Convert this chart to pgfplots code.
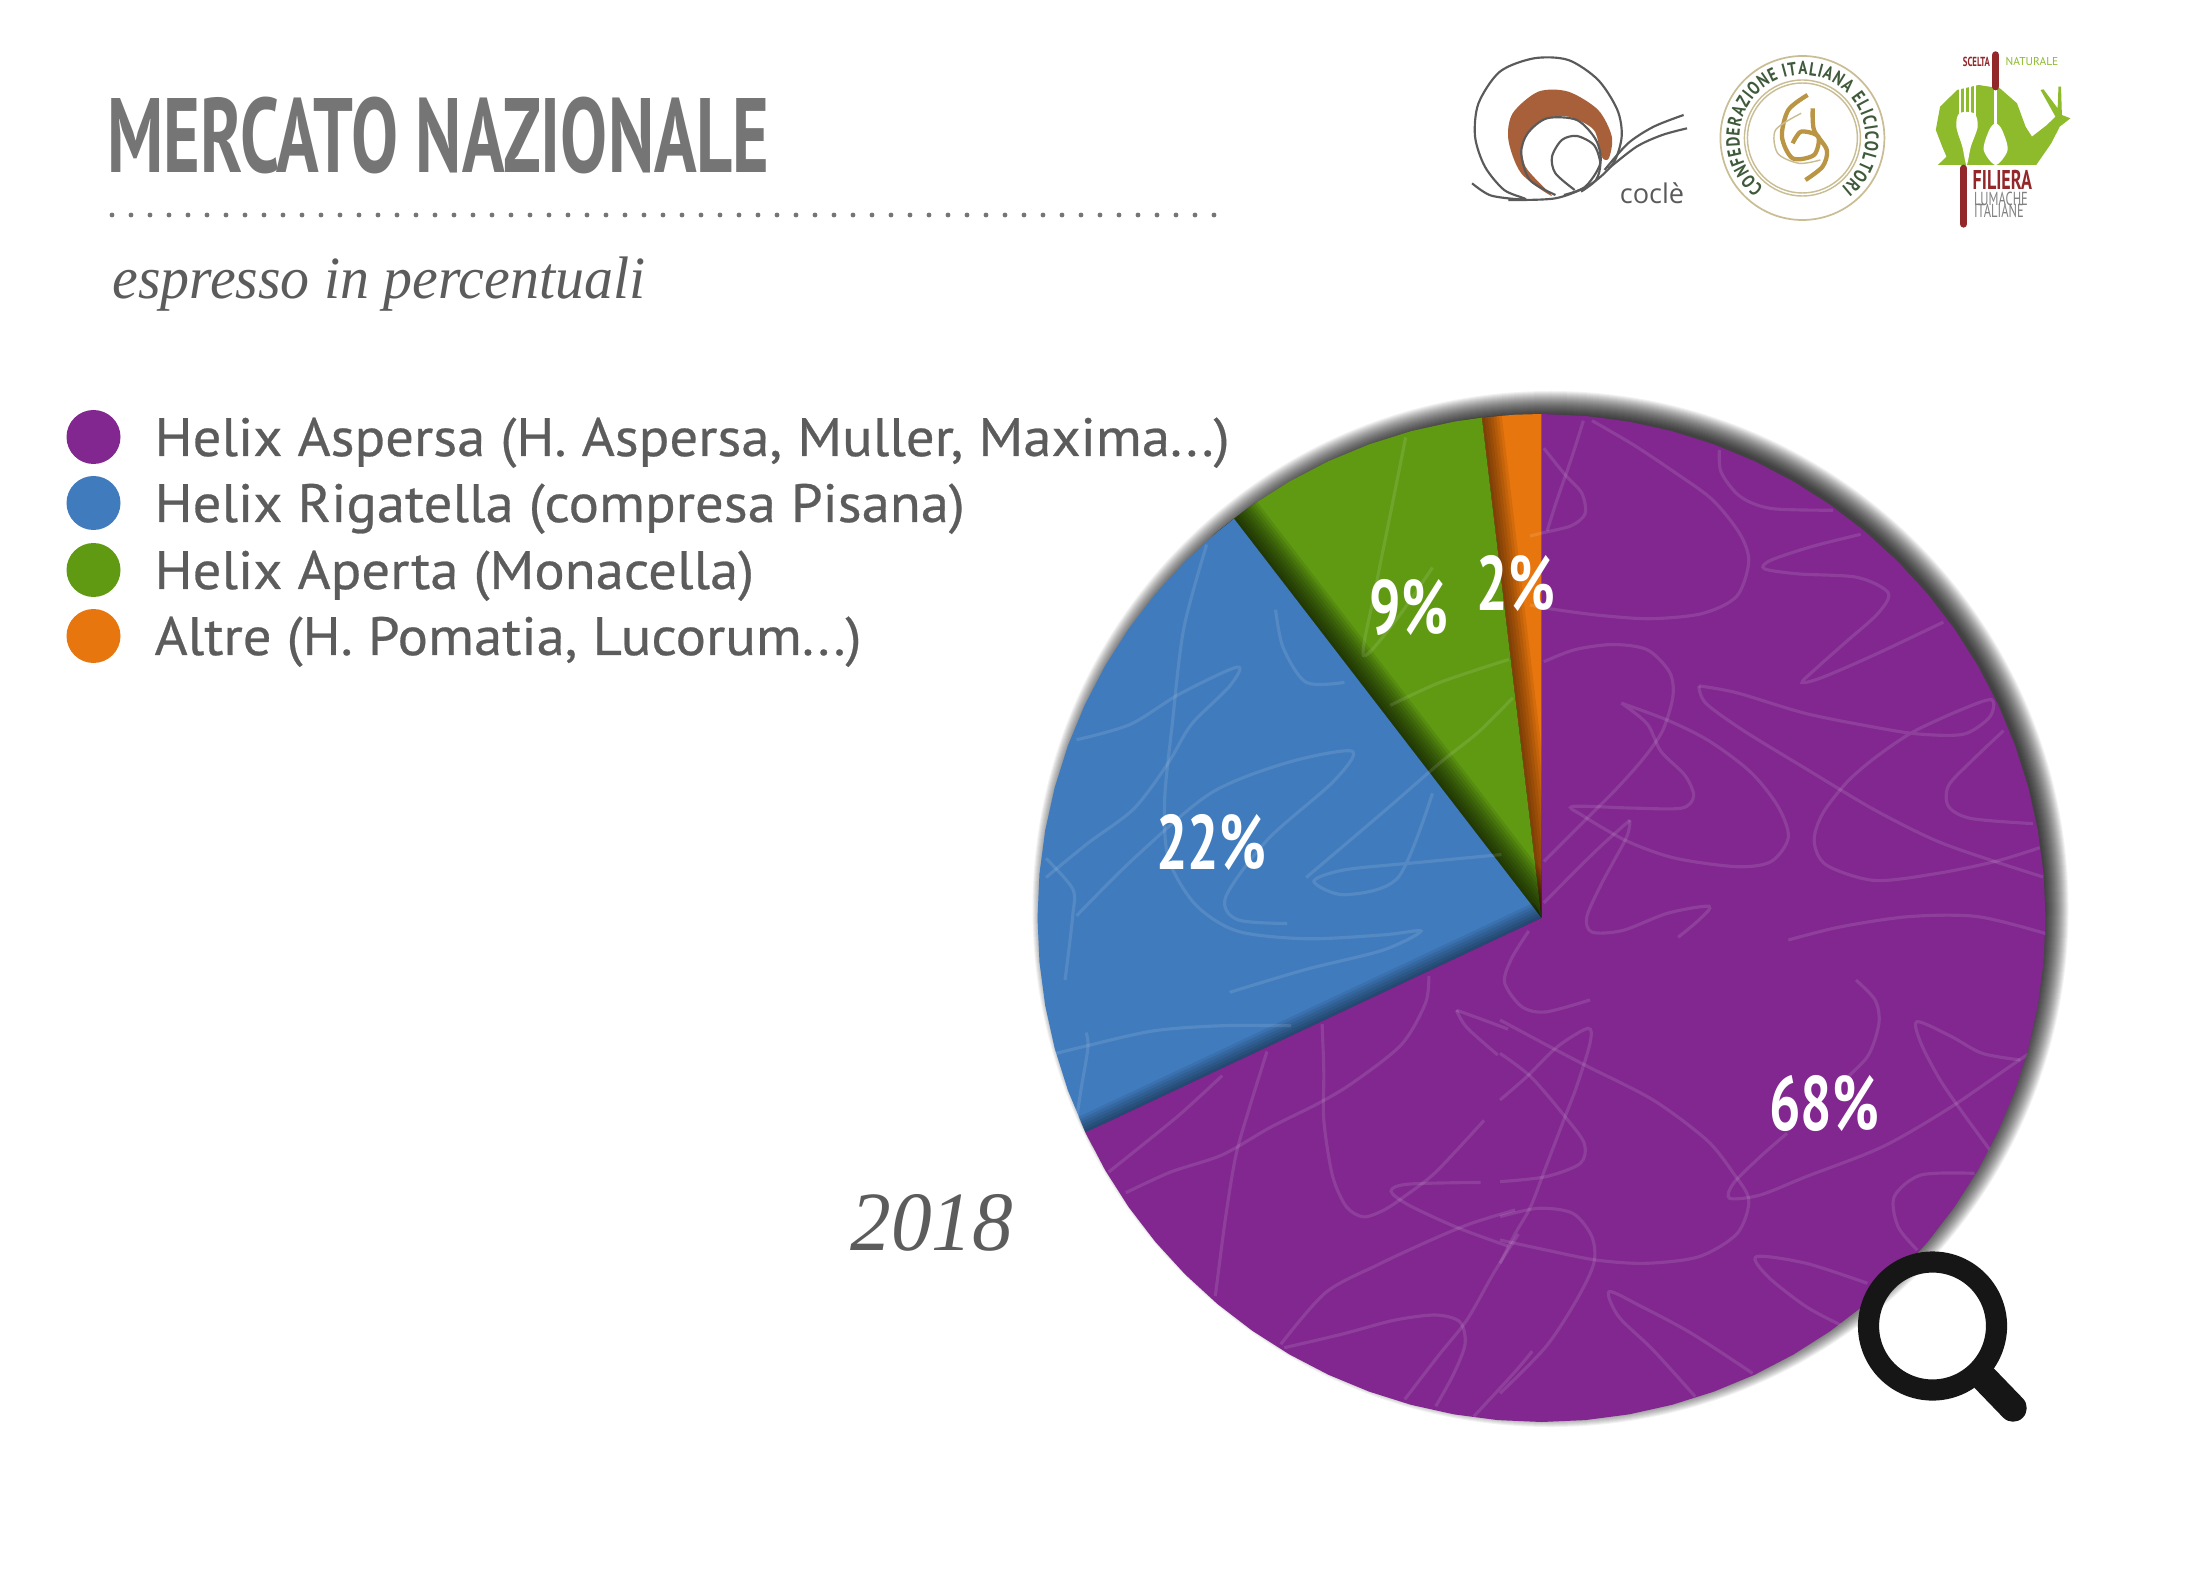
\documentclass[border=0pt]{standalone}
\usepackage{pgfplots}
\pgfplotsset{compat=1.18}
\usepgfplotslibrary{polar}
\usetikzlibrary{decorations.text}
\usepackage{fontspec}
\setmainfont{PT Sans}
\newfontfamily\titlef{PT Sans}[FakeStretch=.665]
\newfontfamily\ringf{PT Sans}[FakeStretch=.8]
\newfontfamily\legf{PT Sans}[FakeStretch=1.05,FakeBold=.5]
\newfontfamily\pctf{PT Sans}[FakeStretch=.72]
\newfontfamily\seriff{Liberation Serif}[FakeStretch=.965]
\newfontfamily\thinf{Open Sans}
\definecolor{cpurple}{HTML}{81278F}
\definecolor{cblue}{HTML}{3F7BBD}
\definecolor{cgreen}{HTML}{5F9A12}
\definecolor{corange}{HTML}{E8760E}
\definecolor{tgray}{HTML}{5C5C5C}
\definecolor{ttitle}{HTML}{757575}
\definecolor{lgray}{HTML}{5A5A5A}
\definecolor{lbrown}{HTML}{A8603A}
\definecolor{ltan}{HTML}{C9BD93}
\definecolor{lgold}{HTML}{B99544}
\definecolor{ldgreen}{HTML}{3F5A3A}
\definecolor{lgreen}{HTML}{8DBB2C}
\definecolor{lred}{HTML}{92282A}
\begin{document}
\begin{tikzpicture}[x=.35pt,y=-.35pt]
\path[use as bounding box] (0,0) rectangle (2186,1580);
\fill[white] (0,0) rectangle (2186,1580);
\coordinate (C) at (1541.5,918);
% soft drop shadow
\foreach \r in {495,496,...,518}{\fill[black,opacity=.05] (1550.5,909) circle (\r);}
\begin{polaraxis}[
  at={(C)},anchor=center,scale only axis,width=352.8pt,height=352.8pt,
  xmin=0,xmax=360,ymin=0,ymax=1,hide axis,clip=false]
\addplot[fill=corange,draw=none,forget plot] coordinates {(90,0)(90,1)(93,1)(96.8,1)} -- cycle;
\pgfplotsinvokeforeach{2,4,6,8,10,12,14}{\addplot[black,opacity=.08,line width=#1pt,forget plot] coordinates {(96.8,0)(96.8,1)};}
\addplot[fill=cgreen,draw=none,forget plot] coordinates {(96.8,0)(96.8,1)(100,1)(105,1)(110,1)(115,1)(120,1)(125,1)(127.6,1)} -- cycle;
\pgfplotsinvokeforeach{2,4,6,8,10,12,14,16,18,20}{\addplot[black,opacity=.09,line width=#1pt,forget plot] coordinates {(127.6,0)(127.6,1)};}
\addplot[fill=cblue,draw=none,forget plot] coordinates {(127.6,0)(127.6,1)(130,1)(135,1)(140,1)(145,1)(150,1)(155,1)(160,1)(165,1)(170,1)(175,1)(180,1)(185,1)(190,1)(195,1)(200,1)(205.2,1)} -- cycle;
\pgfplotsinvokeforeach{2,4,6,8,10,12}{\addplot[black,opacity=.08,line width=#1pt,forget plot] coordinates {(205.2,0)(205.2,1)};}
\addplot[fill=cpurple,draw=none,forget plot] coordinates {(205.2,0)(205.2,1)(210,1)(215,1)(220,1)(225,1)(230,1)(235,1)(240,1)(245,1)(250,1)(255,1)(260,1)(265,1)(270,1)(275,1)(280,1)(285,1)(290,1)(295,1)(300,1)(305,1)(310,1)(315,1)(320,1)(325,1)(330,1)(335,1)(340,1)(345,1)(350,1)(355,1)(360,1)(365,1)(370,1)(375,1)(380,1)(385,1)(390,1)(395,1)(400,1)(405,1)(410,1)(415,1)(420,1)(425,1)(430,1)(435,1)(440,1)(445,1)(450,1)} -- cycle;
\end{polaraxis}
% faint scribbles
\begin{scope}
\clip (C) circle (504);
\tikzset{sq/.style={white,opacity=.11,line width=1.1pt}}
\begin{scope}[shift={(1500,1000)},xscale=.3827,yscale=.3333]
\draw[sq] plot[smooth] coordinates {(0,60)(130,140)(230,200)(400,300)(540,420)(610,520)(650,600)(620,700)(520,770)(380,790)(250,780)(120,750)(0,720)};
\draw[sq] plot[smooth] coordinates {(0,300)(70,230)(150,140)(230,85)(235,130)(200,260)(170,350)(120,500)(80,620)(40,700)(0,790)};
\draw[sq] plot[smooth] coordinates {(0,160)(80,230)(170,350)(220,430)(210,490)(120,530)(0,545)};
\draw[sq] plot[smooth] coordinates {(0,650)(100,625)(190,640)(240,710)(245,790)(200,900)(120,1040)(0,1180)};
\draw[sq] plot[smooth] coordinates {(750,400)(680,470)(610,550)(600,595)(680,585)(800,530)(1000,440)(1180,320)(1370,170)(1500,80)};
\draw[sq] plot[smooth] coordinates {(1360,180)(1260,160)(1180,110)(1090,65)(1100,130)(1150,240)(1210,340)(1280,450)};
\draw[sq] plot[smooth] coordinates {(1240,520)(1100,525)(1030,590)(1040,680)(1090,750)};
\draw[sq] plot[smooth] coordinates {(960,850)(800,790)(670,770)(700,830)(800,920)(890,975)};
\draw[sq] plot[smooth] coordinates {(660,1120)(500,1000)(370,920)(285,875)(310,950)(400,1050)(510,1190)};
\draw[sq] plot[smooth] coordinates {(880,260)(960,170)(990,70)(980,0)(930,-60)};
\end{scope}
\begin{scope}[shift={(1000,380)},scale=.3827]
\draw[sq] plot[smooth] coordinates {(540,430)(480,650)(450,900)(430,1100)(440,1250)(510,1370)(620,1440)(800,1460)(1000,1450)(1100,1440)(1000,1490)(800,1540)(600,1600)};
\draw[sq] plot[smooth] coordinates {(200,940)(340,900)(470,820)(620,750)(600,800)(500,900)(440,1000)(350,1120)(230,1210)(120,1300)};
\draw[sq] plot[smooth] coordinates {(120,1250)(190,1330)(190,1400)(170,1568)};
\draw[sq] plot[smooth] coordinates {(200,1400)(350,1250)(550,1080)(750,1000)(920,970)(870,1050)(700,1200)(590,1350)(620,1410)(750,1420)};
\draw[sq] plot[smooth] coordinates {(1310,1240)(1100,1260)(900,1280)(820,1310)(900,1345)(1040,1300)(1130,1080)};
\draw[sq] plot[smooth] coordinates {(1060,150)(1020,350)(980,550)(950,720)(1040,620)(1130,490)};
\draw[sq] plot[smooth] coordinates {(1330,730)(1150,790)(1020,850)};
\draw[sq] plot[smooth] coordinates {(1340,830)(1250,920)(1150,1000)(1000,1130)(800,1300)};
\draw[sq] plot[smooth] coordinates {(720,600)(740,700)(800,790)(900,790)};
\end{scope}
\begin{scope}[shift={(1530,400)},scale=.3444]
\draw[sq] plot[smooth] coordinates {(40,140)(100,215)(150,270)(160,330)(120,365)(40,385)(0,395)};
\draw[sq] plot[smooth] coordinates {(155,60)(120,170)(75,300)(50,380)};
\draw[sq] plot[smooth] coordinates {(180,60)(300,130)(420,210)(530,290)(610,390)(635,470)(600,570)(500,620)(350,635)(200,625)(50,605)(0,595)};
\draw[sq] plot[smooth] coordinates {(550,145)(555,210)(610,280)(700,315)(880,320)};
\draw[sq] plot[smooth] coordinates {(960,390)(820,425)(700,465)(680,490)(780,505)(950,515)(1040,560)(1010,620)(920,700)(830,780)(790,820)(850,805)(1000,740)(1200,645)};
\draw[sq] plot[smooth] coordinates {(40,760)(130,725)(240,710)(340,725)(405,790)(415,860)(385,960)(330,1040)(250,1130)(170,1210)(40,1340)};
\draw[sq] plot[smooth] coordinates {(265,880)(340,940)(380,1020)(450,1090)(475,1150)(440,1185)(300,1185)(125,1180)(150,1205)(280,1280)(420,1330)(600,1355)(700,1340)(750,1270)(720,1180)(640,1080)(520,990)(400,930)(265,880)};
\draw[sq] plot[smooth] coordinates {(290,1220)(190,1310)(40,1460)};
\draw[sq] plot[smooth] coordinates {(290,1220)(280,1270)(210,1400)(165,1500)(180,1545)(270,1540)(400,1490)(520,1470)(490,1510)(430,1560)};
\draw[sq] plot[smooth] coordinates {(490,830)(600,850)(800,910)(1000,950)(1130,970)(1260,970)(1335,920)(1340,870)(1250,900)(1110,965)(1000,1040)(920,1110)(850,1200)(825,1280)(860,1350)(1000,1395)(1180,1375)(1350,1340)(1480,1300)};
\draw[sq] plot[smooth] coordinates {(490,830)(510,880)(620,960)(800,1070)(1000,1190)(1180,1280)(1350,1340)(1490,1385)};
\draw[sq] plot[smooth] coordinates {(1375,960)(1280,1050)(1215,1120)(1215,1180)(1280,1215)(1460,1230)};
\draw[sq] plot[smooth] coordinates {(750,1568)(900,1530)(1100,1500)(1300,1500)(1500,1550)};
\end{scope}
\begin{scope}[shift={(1050,900)},scale=.3444]
\draw[sq] plot[smooth] coordinates {(1390,90)(1340,170)(1320,240)(1370,310)(1440,325)(1568,290)};
\draw[sq] plot[smooth] coordinates {(1100,220)(1090,300)(1020,420)(880,530)(780,590)(640,660)(500,740)(350,790)(220,850)};
\draw[sq] plot[smooth] coordinates {(790,360)(795,500)(795,640)(820,800)(860,890)(910,920)(970,900)(1030,860)(1120,790)(1260,640)};
\draw[sq] plot[smooth] coordinates {(630,440)(580,600)(540,740)(510,920)(480,1150)};
\draw[sq] plot[smooth] coordinates {(500,510)(380,620)(270,710)(170,790)};
\draw[sq] plot[smooth] coordinates {(1180,320)(1250,345)(1330,375)};
\draw[sq] plot[smooth] coordinates {(1180,320)(1210,370)(1300,450)};
\draw[sq] plot[smooth] coordinates {(1250,820)(1040,825)(990,845)(1040,885)(1180,950)(1330,1005)};
\draw[sq] plot[smooth] coordinates {(1360,970)(1290,1080)(1210,1220)(1130,1320)(1030,1450)};
\draw[sq] plot[smooth] coordinates {(670,1290)(800,1140)(950,1060)(1100,990)(1220,940)(1350,900)};
\draw[sq] plot[smooth] coordinates {(680,1300)(850,1260)(1000,1220)(1120,1205)(1190,1225)(1205,1290)(1170,1380)(1120,1470)};
\draw[sq] plot[smooth] coordinates {(1230,1500)(1350,1370)(1400,1310)};
\draw[sq] plot[smooth] coordinates {(0,450)(100,425)(300,380)(500,365)(700,365)};
\draw[sq] plot[smooth] coordinates {(105,385)(110,430)(90,550)(75,650)};
\end{scope}
\end{scope}
% percentages
\foreach \x/\y/\t in {1211/842/22,1409/608/9,1516/584/2,1824/1103/68}{
  \node[white,font={\pctf\bfseries\fontsize{27}{30}\selectfont}] at (\x,\y) {\t\%};}
% magnifier
\draw[draw={rgb,255:red,22;green,22;blue,22},line width=7.4pt] (1932.5,1326) circle (64);
\draw[draw={rgb,255:red,22;green,22;blue,22},line width=9.6pt,line cap=round] (1985,1379) -- (2013,1408);
% title
\node[anchor=base west,inner sep=0,text=ttitle,font={\titlef\bfseries\fontsize{37}{40}\selectfont}] at (107,173) {MERCATO NAZIONALE};
\draw[ttitle,line width=1.7pt,line cap=round,dash pattern=on 0pt off 6.65pt] (112,215) -- (1225,215);
\node[anchor=base west,inner sep=0,text=tgray,font={\seriff\itshape\fontsize{21}{24}\selectfont}] at (112,299) {espresso in percentuali};
\node[anchor=base west,inner sep=0,text=tgray,font={\seriff\itshape\fontsize{29.5}{32}\selectfont}] at (850,1250) {2018};
% legend
\foreach \y/\c/\t in {437/cpurple/{Helix Aspersa (H. Aspersa, Muller, Maxima...)},503/cblue/{Helix Rigatella (compresa Pisana)},570/cgreen/{Helix Aperta (Monacella)},636/corange/{Altre (H. Pomatia, Lucorum...)}}{
  \fill[\c] (93.5,\y) circle (27);
  \node[anchor=base west,inner sep=0,text=tgray,font={\legf\fontsize{18.9}{21}\selectfont}] at (154,\y+19) {\t};
}
% logo 1: cocle
\begin{scope}[shift={(1440,30)},xscale=.4274,yscale=.3333]
\fill[lbrown] plot[smooth cycle] coordinates {(262,498)(190,430)(160,330)(170,250)(230,185)(300,185)(370,240)(402,320)(395,385)(378,380)(360,300)(300,260)(240,270)(195,330)(200,410)};
\tikzset{lg/.style={lgray,line width=.75pt}}
\draw[lg] plot[smooth] coordinates {(75,460)(120,497)(200,508)(150,480)(105,410)(82,320)(90,220)(140,125)(220,85)(300,90)(370,150)(415,240)(425,320)(405,400)(350,465)(270,505)(160,510)};
\draw[lg] plot[smooth] coordinates {(270,495)(210,450)(190,370)(205,310)(250,265)(320,270)(365,330)(375,400)(340,470)(290,495)};
\draw[lg] plot[smooth] coordinates {(315,480)(270,430)(262,380)(285,330)(320,318)(360,345)(375,400)(365,450)(330,485)};
\draw[lg] plot[smooth] coordinates {(385,420)(440,340)(500,290)(570,255)};
\draw[lg] plot[smooth] coordinates {(395,415)(460,350)(520,315)(578,295)};
\node[text=lgray,font={\thinf\fontsize{9.5}{11}\selectfont}] at (496,490) {coclè};
\end{scope}
% logo 2: confederazione
\coordinate (L2) at (1802.4,138);
\begin{scope}[shift={(L2)},x=.35pt,y=.35pt]
\draw[ltan,line width=.6pt] (0,0) circle (82);
\draw[ltan,line width=.5pt] (0,0) circle (58);
\draw[ltan,line width=.5pt] (0,0) circle (55);
\path[decorate,decoration={text along path,text color=ldgreen,text align={fit to path},
  text={|\ringf\bfseries\fontsize{6.6}{7}\selectfont|CONFEDERAZIONE ITALIANA ELICICOLTORI}}]
  (232:63) arc[start angle=232,end angle=-52,radius=63];
\end{scope}
\begin{scope}[shift={(1440,30)},xscale=.4274,yscale=.3333]
\draw[lgold,line width=1.5pt] plot[smooth] coordinates {(860,195)(815,240)(800,320)(825,385)(875,375)(885,320)(845,305)(825,340)};
\draw[lgold,line width=1.5pt] plot[smooth] coordinates {(872,235)(875,300)(905,360)(895,410)(855,450)};
\draw[ltan,line width=.5pt] plot[smooth] coordinates {(845,250)(785,300)(790,370)(840,400)(890,390)};
\end{scope}
% logo 3: filiera
\begin{scope}[shift={(1440,30)},xscale=.4274,yscale=.3333]
\fill[lgreen] plot coordinates {(1165,405)(1185,380)(1175,350)(1160,300)(1170,230)(1210,180)(1260,165)(1310,175)(1350,220)(1370,290)(1385,320)(1420,285)(1440,260)(1405,180)(1412,178)(1445,235)(1447,170)(1453,170)(1455,255)(1475,265)(1450,290)(1430,340)(1395,405)};
\fill[white] plot[smooth cycle] coordinates {(1232,405)(1222,350)(1208,290)(1215,250)(1250,250)(1258,290)(1242,350)};
\foreach \x in {1216,1228,1240,1252}{\draw[white,line width=.8pt] (\x,165) -- (\x,260);}
\fill[white] plot[smooth cycle] coordinates {(1300,405)(1272,360)(1285,300)(1300,280)(1315,300)(1328,360)};
\draw[white,line width=1.2pt] (1300,165) -- (1300,300);
\draw[lred,line width=2.6pt,line cap=round] (1300,75) -- (1300,170);
\draw[lred,line width=2.6pt,line cap=round] (1225,415) -- (1225,582);
\node[anchor=center,inner sep=0,text=lred,font={\titlef\bfseries\fontsize{4.6}{5}\selectfont}] at (1255,95) {SCELTA};
\node[anchor=center,inner sep=0,text=lgreen,font={\fontsize{4}{5}\selectfont}] at (1385,95) {NATURALE};
\node[anchor=west,inner sep=0,text=lred,font={\titlef\bfseries\fontsize{9.5}{10}\selectfont}] at (1245,450) {FILIERA};
\node[anchor=west,inner sep=0,text=gray,font={\titlef\fontsize{6.6}{7}\selectfont}] at (1248,507) {LUMACHE};
\node[anchor=west,inner sep=0,text=gray,font={\titlef\fontsize{6.6}{7}\selectfont}] at (1248,543) {ITALIANE};
\end{scope}
\end{tikzpicture}
\end{document}
